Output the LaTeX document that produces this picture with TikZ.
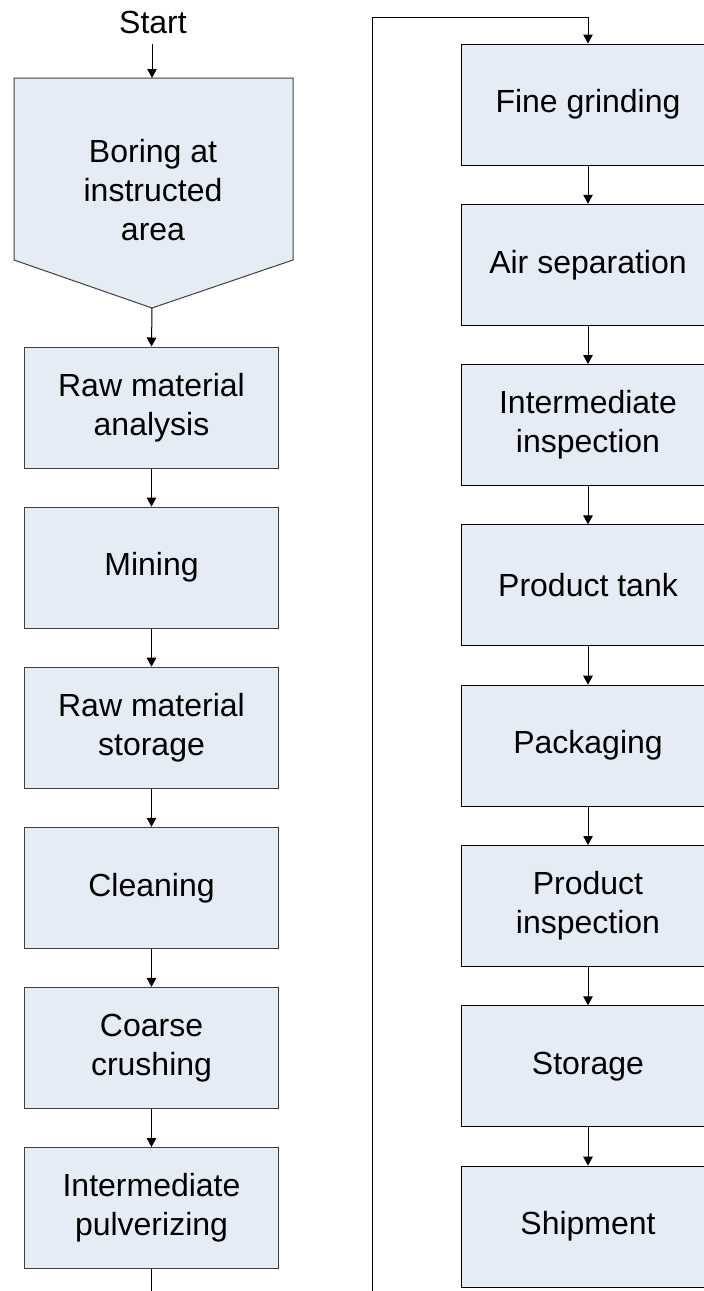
\documentclass[tikz,border=0pt]{standalone}
\usepackage{fontspec}
\setmainfont{Liberation Sans}
\usetikzlibrary{arrows.meta}
\definecolor{boxfill}{RGB}{230,236,246}
\definecolor{leftline}{RGB}{64,64,64}
\begin{document}
\begin{tikzpicture}[x=1pt,y=-1pt,
  proc/.style={draw=leftline, fill=boxfill, line width=1pt, minimum width=254pt, minimum height=121pt, align=center, font=\fontsize{32}{39}\selectfont, inner sep=0pt},
  rproc/.style={proc, draw=black},
  arr/.style={-{Triangle[length=9pt,width=9.5pt]}, line width=1pt},
  conn/.style={line width=1pt}]
\clip (0,0) rectangle (704,1291);
\fill[white] (0,0) rectangle (704,1291);
% start and pentagon
\node[font=\fontsize{32}{39}\selectfont, inner sep=0pt, anchor=base] (start) at (153,33) {Start};
\coordinate (s0) at (152,44);
\coordinate (ptop) at (152,78);
\coordinate (ptip) at (152,308);
\path[draw=leftline, fill=boxfill, line width=1pt] (14,78) -- (293,78) -- (293,260) -- (ptip) -- (14,260) -- cycle;
\node[align=center, font=\fontsize{32}{39}\selectfont, inner sep=0pt] (boring) at (153,190) {Boring at\\instructed\\area};
% left column
\node[proc] (raw) at (151.5,407.5) {Raw material\\analysis};
\node[proc] (mining) at (151.5,567.6) {Mining};
\node[proc] (rstore) at (151.5,727.7) {Raw material\\storage};
\node[proc] (clean) at (151.5,887.8) {Cleaning};
\node[proc] (coarse) at (151.5,1047.9) {Coarse\\crushing};
\node[proc] (ipulv) at (151.5,1208) {Intermediate\\pulverizing};
% right column
\node[rproc] (fine) at (588,104.5) {Fine grinding};
\node[rproc] (air) at (588,264.8) {Air separation};
\node[rproc] (iinsp) at (588,425.1) {Intermediate\\inspection};
\node[rproc] (tank) at (588,585.4) {Product tank};
\node[rproc] (pack) at (588,745.7) {Packaging};
\node[rproc] (pinsp) at (588,906) {Product\\inspection};
\node[rproc] (store) at (588,1066.3) {Storage};
\node[rproc] (ship) at (588,1226.6) {Shipment};
% connectors
\draw[arr] (s0) -- (ptop);
\draw[arr] (ptip) -- (raw.north);
\draw[arr] (raw.south) -- (mining.north);
\draw[arr] (mining.south) -- (rstore.north);
\draw[arr] (rstore.south) -- (clean.north);
\draw[arr] (clean.south) -- (coarse.north);
\draw[arr] (coarse.south) -- (ipulv.north);
\coordinate (lend) at (151.5,1291);
\draw[conn] (ipulv.south) -- (lend);
\coordinate (rb) at (372,1291);
\coordinate (rt) at (372,17);
\draw[arr] (rb) -- (rt) -| (fine.north);
\draw[arr] (fine.south) -- (air.north);
\draw[arr] (air.south) -- (iinsp.north);
\draw[arr] (iinsp.south) -- (tank.north);
\draw[arr] (tank.south) -- (pack.north);
\draw[arr] (pack.south) -- (pinsp.north);
\draw[arr] (pinsp.south) -- (store.north);
\draw[arr] (store.south) -- (ship.north);
\end{tikzpicture}
\end{document}
